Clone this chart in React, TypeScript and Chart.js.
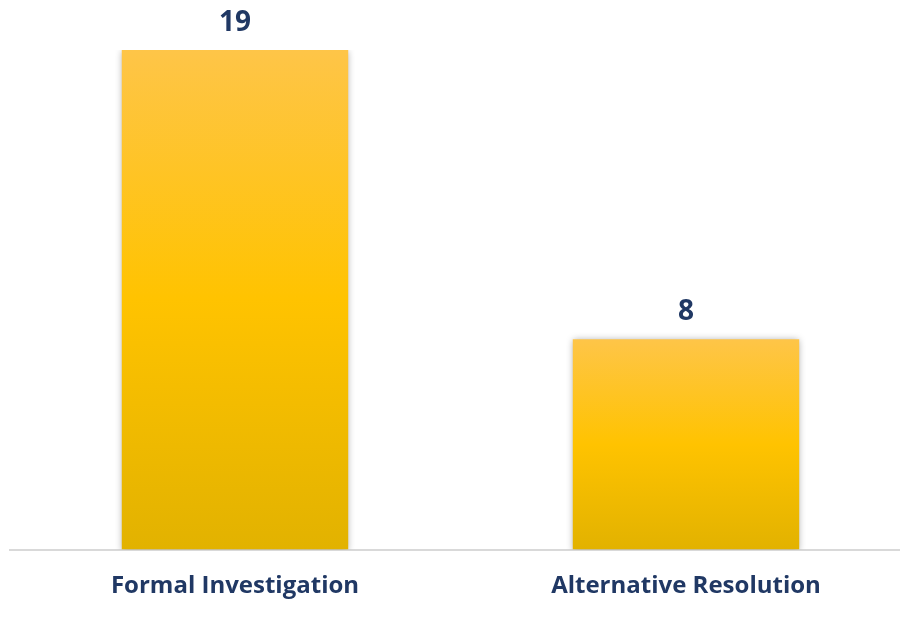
import React, { useEffect, useRef } from "react";
import { Chart, registerables } from "chart.js";

Chart.register(...registerables);

const categories = ["Formal Investigation", "Alternative Resolution"];
const values = [19, 8];
const valueLabels = ["19", "8"];

const TEXT_COLOR = "#203864";
const FONT = "'Open Sans', 'Noto Sans', sans-serif";

export default function App() {
  const ref = useRef<HTMLCanvasElement | null>(null);

  useEffect(() => {
    if (!ref.current) return;
    const shadowPlugin = {
      id: "barShadow",
      beforeDatasetsDraw(chart: any) {
        const ctx = chart.ctx;
        ctx.save();
        ctx.shadowColor = "rgba(0,0,0,0.35)";
        ctx.shadowBlur = 7;
        ctx.shadowOffsetX = 0;
        ctx.shadowOffsetY = 1;
      },
      afterDatasetsDraw(chart: any) {
        chart.ctx.restore();
        const ctx = chart.ctx;
        const meta = chart.getDatasetMeta(0);
        ctx.save();
        ctx.fillStyle = TEXT_COLOR;
        ctx.font = `bold 28px ${FONT}`;
        ctx.textAlign = "center";
        ctx.textBaseline = "alphabetic";
        meta.data.forEach((bar: any, i: number) => {
          ctx.fillText(valueLabels[i], bar.x, bar.y - 19.5);
        });
        ctx.restore();
      },
    };

    const chart = new Chart(ref.current, {
      type: "bar",
      data: {
        labels: categories,
        datasets: [
          {
            data: values,
            backgroundColor: (c: any) => {
              const ch = c.chart;
              if (!ch.chartArea || c.dataIndex === undefined) return "#FFC000";
              const y = ch.scales.y;
              const top = y.getPixelForValue(values[c.dataIndex]);
              const bottom = y.getPixelForValue(0);
              const g = ch.ctx.createLinearGradient(0, top, 0, bottom);
              g.addColorStop(0, "#FEC548");
              g.addColorStop(0.5, "#FFC300");
              g.addColorStop(1, "#E2B200");
              return g;
            },
            borderWidth: 0,
            categoryPercentage: 1,
            barPercentage: 0.502,
          },
        ],
      },
      options: {
        responsive: false,
        animation: false,
        layout: { padding: { top: 50, left: 9.5, right: 0.5, bottom: 1.6 } },
        plugins: {
          legend: { display: false },
          tooltip: { enabled: false },
        },
        scales: {
          x: {
            grid: { display: false, drawTicks: false },
            border: { display: true, color: "#D9D9D9", width: 2 },
            ticks: {
              color: TEXT_COLOR,
              font: { family: FONT, size: 24, weight: "bold" },
              padding: 22,
              maxRotation: 0,
            },
          },
          y: {
            display: false,
            min: 0,
            max: 19,
          },
        },
      },
      plugins: [shadowPlugin],
    });
    return () => chart.destroy();
  }, []);

  return (
    <div style={{ position: "fixed", left: 0, top: 0, width: 900, height: 624, overflow: "hidden", background: "#fff" }}>
      <canvas ref={ref} width={912} height={624} />
    </div>
  );
}
